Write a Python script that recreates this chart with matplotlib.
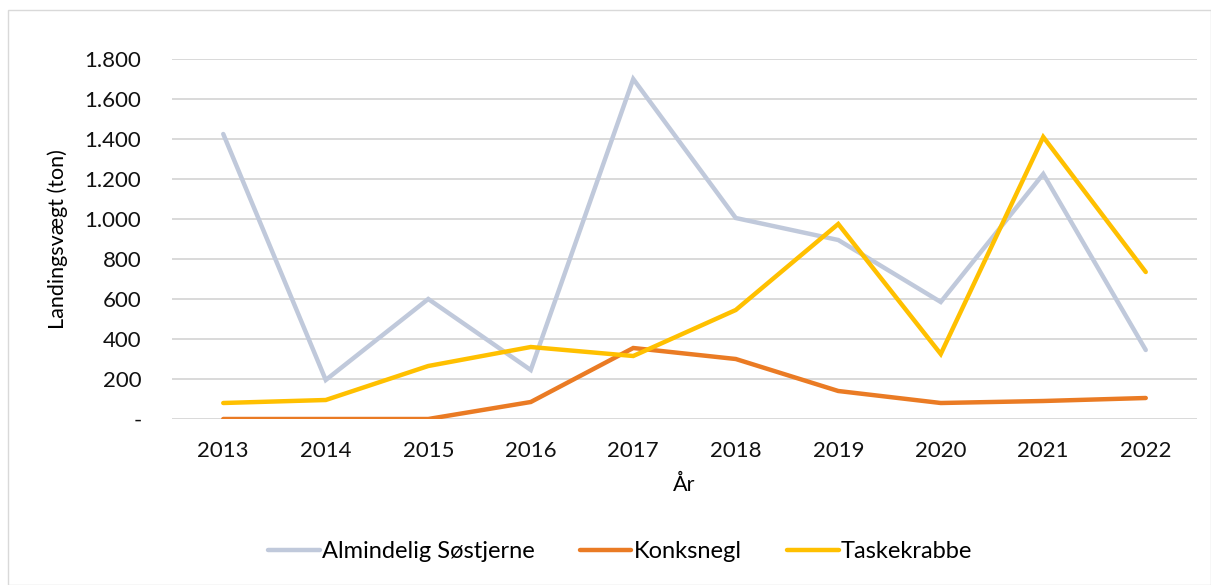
import matplotlib.pyplot as plt
from matplotlib.patches import Rectangle
from matplotlib.ticker import FuncFormatter

plt.rcParams['font.family'] = ['Lato', 'DejaVu Sans']

years = ['2013', '2014', '2015', '2016', '2017', '2018', '2019', '2020', '2021', '2022']
soestjerne = [1425, 195, 600, 245, 1700, 1005, 895, 585, 1225, 345]
konksnegl = [0, 0, 0, 85, 355, 300, 140, 80, 90, 105]
taskekrabbe = [80, 95, 265, 360, 315, 545, 975, 325, 1410, 735]

names = ['Almindelig Søstjerne', 'Konksnegl', 'Taskekrabbe']
colors = ['#c0c9db', '#ea7b24', '#ffc000']


def fmt(v, pos):
    if v == 0:
        return '-'
    return '{:,.0f}'.format(v).replace(',', '.')


fig = plt.figure(figsize=(12.11, 5.85), dpi=100)
ax = fig.add_axes([172 / 1211, 1 - 419 / 585, (1197 - 172) / 1211, 360 / 585])

x = range(len(years))
for vals, name, c in zip([soestjerne, konksnegl, taskekrabbe], names, colors):
    ax.plot(x, vals, color=c, lw=3.2, label=name, solid_capstyle='round',
            solid_joinstyle='miter')

ax.set_xlim(-0.5, len(years) - 0.5)
ax.set_ylim(0, 1800)
ax.set_yticks(range(0, 1801, 200))
ax.yaxis.set_major_formatter(FuncFormatter(fmt))
ax.set_xticks(list(x))
ax.set_xticklabels(years)
ax.grid(axis='y', color='#d9d9d9', lw=1.4)
ax.set_axisbelow(True)
for s in ax.spines.values():
    s.set_visible(False)
ax.tick_params(length=0, labelsize=16, colors='#111111', pad=22)
ax.tick_params(axis='x', pad=16)
ax.set_ylabel('Landingsvægt (ton)', fontsize=15.5, labelpad=12)
ax.set_xlabel('År', fontsize=15.5, labelpad=10)

fig.legend(*ax.get_legend_handles_labels(), loc='center',
           bbox_to_anchor=(620 / 1211, 1 - 552 / 585), ncol=3, frameon=False,
           fontsize=17, handlelength=2.2, columnspacing=1.9, handletextpad=0.1)

fig.patches.append(Rectangle((8 / 1211, 0), 1 - 8 / 1211, 1 - 10 / 585,
                             transform=fig.transFigure, fill=False,
                             edgecolor='#d9d9d9', lw=1.0))

fig.savefig('out.png', dpi=100)
